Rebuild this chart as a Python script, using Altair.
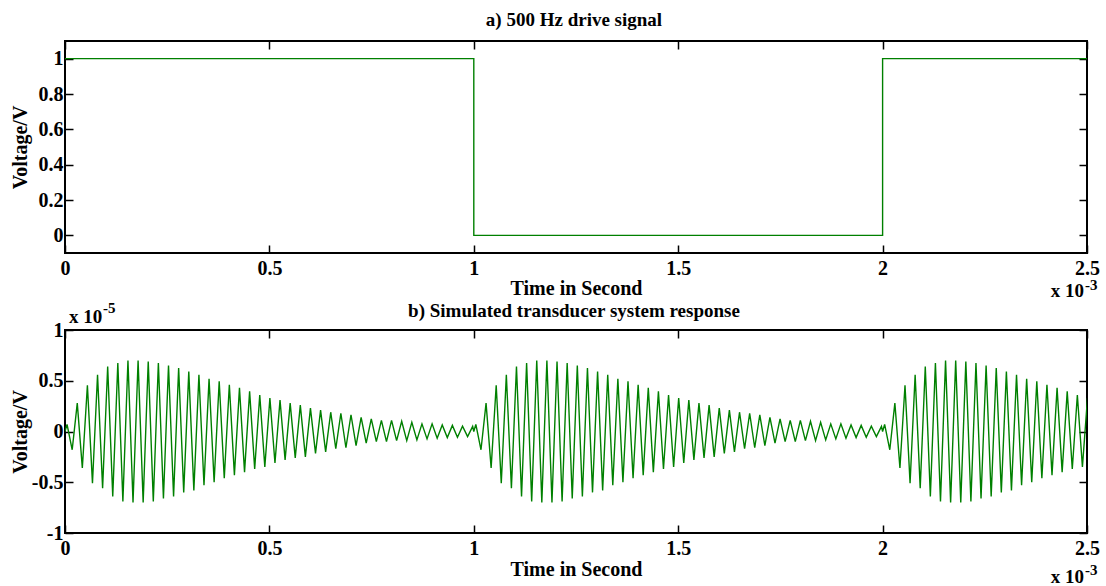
import altair as alt
import pandas as pd

# ---------------- data ----------------
# a) drive signal (time in ms, voltage in V)
drive_t = [0.0, 1.0, 1.0, 2.0, 2.0, 2.5]
drive_v = [1, 1, 0, 0, 1, 1]

# b) response: magnitudes of successive peaks / troughs within one 1 ms burst (x 1e-5 V)
peak_amp = [0.28, 0.455, 0.56, 0.64, 0.675, 0.70, 0.70, 0.69, 0.675, 0.65,
            0.625, 0.59, 0.56, 0.52, 0.495, 0.46, 0.43, 0.395, 0.36, 0.33,
            0.31, 0.28, 0.26, 0.23, 0.21, 0.19, 0.18, 0.165, 0.14, 0.125,
            0.11, 0.11, 0.10, 0.09, 0.075, 0.075, 0.065, 0.06, 0.053, 0.05]
trough_amp = [0.18, 0.36, 0.51, 0.56, 0.64, 0.69, 0.70, 0.70, 0.69, 0.66,
              0.64, 0.60, 0.58, 0.53, 0.50, 0.46, 0.43, 0.40, 0.37, 0.35,
              0.31, 0.28, 0.26, 0.25, 0.215, 0.20, 0.17, 0.16, 0.14, 0.115,
              0.10, 0.10, 0.09, 0.09, 0.083, 0.073, 0.066, 0.06, 0.056, 0.05]
burst_start = [0.0, 1.0, 2.0]      # ms, each drive edge starts a burst
first_bump = 0.07                  # small lead-in wiggle at each edge
cycle_ms = 0.0248                  # read oscillation period (ms)
first_trough_ms = 0.0176
first_peak_ms = 0.0300
bump_ms = 0.005

x_ticks = [0, 0.5, 1, 1.5, 2, 2.5]
y1_ticks = [0, 0.2, 0.4, 0.6, 0.8, 1]
y2_ticks = [-1, -0.5, 0, 0.5, 1]

title_a = "a) 500 Hz drive signal"
title_b = "b) Simulated transducer system response"

# ---------------- tables ----------------
drive = pd.DataFrame({"t": drive_t, "v": drive_v, "i": list(range(len(drive_t)))})

rows = []
for s in burst_start:
    rows.append((s, 0.0))
    rows.append((s + bump_ms, first_bump))
    for k in range(len(peak_amp)):
        rows.append((s + first_trough_ms + k * cycle_ms, -trough_amp[k]))
        rows.append((s + first_peak_ms + k * cycle_ms, peak_amp[k]))
resp = pd.DataFrame(rows, columns=["t", "v"])
resp["i"] = range(len(resp))

one = pd.DataFrame({"a": [0]})

# ---------------- style ----------------
FONT = "Liberation Serif"
GREEN = "#008000"
W = 1022
H1 = 212
H2 = 203
TICK = 8
LBL = "'' + datum.value"

xs = alt.Scale(domain=[0, 2.5], nice=False, zero=False)


def bottom_axis(title_y):
    return alt.Axis(values=x_ticks, labelExpr=LBL, orient="bottom", offset=-TICK,
                    tickSize=TICK, labelPadding=5, labelFlush=False, labelOverlap=False,
                    title="Time in Second", titleY=title_y, titleBaseline="alphabetic",
                    domain=False, grid=False)


def top_axis():
    return alt.Axis(values=x_ticks, orient="top", offset=-TICK, tickSize=TICK,
                    labels=False, title=None, domain=False, grid=False)


def left_axis(vals):
    return alt.Axis(values=vals, labelExpr=LBL, orient="left", offset=-TICK,
                    tickSize=TICK, labelPadding=2, labelOverlap=False, labelFlush=False,
                    title="Voltage/V", titleX=-43, titleBaseline="bottom",
                    domain=False, grid=False)


def right_axis(vals):
    return alt.Axis(values=vals, orient="right", offset=-TICK, tickSize=TICK,
                    labels=False, title=None, domain=False, grid=False)


def txt(s, size, align, x, y):
    return alt.Chart(one).mark_text(text=s, font=FONT, fontSize=size, fontWeight="bold",
                                    color="black", align=align, baseline="alphabetic"
                                    ).encode(x=alt.value(x), y=alt.value(y))


def panel(df, ydom, yvals, h, title_y, extra):
    ys = alt.Scale(domain=ydom, nice=False, zero=False)
    line = alt.Chart(df).mark_line(color=GREEN, strokeWidth=1.4, clip=True).encode(
        x=alt.X("t:Q", scale=xs, axis=bottom_axis(title_y)),
        y=alt.Y("v:Q", scale=ys, axis=left_axis(yvals)),
        order="i:Q",
    )
    mirror = alt.Chart(df).mark_line(opacity=0, clip=True).encode(
        x=alt.X("t:Q", scale=xs, axis=top_axis()),
        y=alt.Y("v:Q", scale=ys, axis=right_axis(yvals)),
        order="i:Q",
    )
    return alt.layer(line, mirror, *extra).resolve_axis(
        x="independent", y="independent"
    ).properties(width=W, height=h)


p1 = panel(drive, [-0.1, 1.1], y1_ticks, H1, 49,
           [txt(title_a, 19, "center", W / 2 - 2, -15),
            txt("x 10", 19, "right", W - 3, H1 + 44),
            txt("-3", 15, "left", W - 2, H1 + 37)])
p2 = panel(resp, [-1, 1], y2_ticks, H2, 50,
           [txt(title_b, 19, "center", W / 2 - 2, -13),
            txt("x 10", 19, "left", 4, -7),
            txt("-5", 15, "left", 38, -17),
            txt("x 10", 19, "right", W - 3, H2 + 50),
            txt("-3", 15, "left", W - 2, H2 + 42)])

chart = alt.vconcat(p1, p2, spacing=77, bounds="flush").configure_view(
    stroke="black", strokeWidth=2
).configure_axis(
    labelFont=FONT, labelFontSize=20, labelFontWeight="bold", labelColor="black",
    titleFont=FONT, titleFontSize=20, titleFontWeight="bold", titleColor="black",
    tickColor="black", tickWidth=1.5,
).properties(
    padding={"left": 9, "top": 10, "right": 5, "bottom": 0},
    background="white",
)

chart.save("out.html", embed_options={"renderer": "svg", "actions": False})
